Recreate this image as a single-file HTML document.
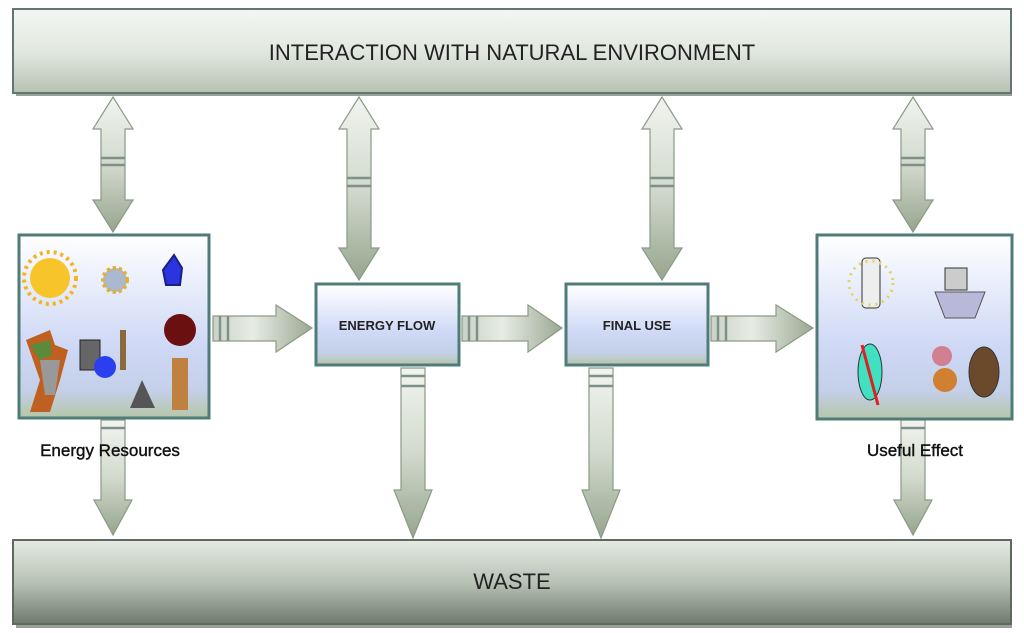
<!DOCTYPE html>
<html><head><meta charset="utf-8"><style>
html,body{margin:0;padding:0;background:#fff;width:1024px;height:633px;overflow:hidden}
svg text{font-family:"Liberation Sans",sans-serif}
</style></head><body>
<svg width="1024" height="633" viewBox="0 0 1024 633" xmlns="http://www.w3.org/2000/svg">
<defs>
<linearGradient id="top" x1="0" y1="0" x2="0" y2="1"><stop offset="0" stop-color="#f4f6f3"/><stop offset="0.5" stop-color="#e2e8e0"/><stop offset="1" stop-color="#b7c2b3"/></linearGradient>
<linearGradient id="bot" x1="0" y1="0" x2="0" y2="1"><stop offset="0" stop-color="#e6ebe4"/><stop offset="0.5" stop-color="#b8c2b5"/><stop offset="1" stop-color="#6f7a6d"/></linearGradient>
<linearGradient id="box" x1="0" y1="0" x2="0" y2="1"><stop offset="0" stop-color="#ffffff"/><stop offset="0.6" stop-color="#cfd9f6"/><stop offset="0.85" stop-color="#c4cfe8"/><stop offset="1" stop-color="#b5c6a8"/></linearGradient>
<linearGradient id="av" x1="0" y1="0" x2="0" y2="1"><stop offset="0" stop-color="#f2f4f0"/><stop offset="0.5" stop-color="#d2dacd"/><stop offset="1" stop-color="#96a58e"/></linearGradient>
<linearGradient id="ah" x1="0" y1="0" x2="1" y2="0"><stop offset="0" stop-color="#c9d2c4"/><stop offset="0.4" stop-color="#e8ece5"/><stop offset="1" stop-color="#9aa892"/></linearGradient>
</defs>

<rect x="16" y="12" width="996" height="84" fill="#9aa098"/>
<rect x="13" y="9" width="998" height="84" fill="url(#top)" stroke="#5f7873" stroke-width="2"/>
<text x="512" y="60" font-size="22" text-anchor="middle" fill="#222">INTERACTION WITH NATURAL ENVIRONMENT</text>

<rect x="16" y="543" width="996" height="85" fill="#9aa098"/>
<rect x="13" y="540" width="998" height="84" fill="url(#bot)" stroke="#5e6a60" stroke-width="2"/>
<text x="512" y="589" font-size="22" text-anchor="middle" fill="#222">WASTE</text>

<g stroke="#8a9a86" stroke-width="1.2" fill="url(#av)">
<polygon points="113,97 133,129 125,129 125,200 133,200 113,232 93,200 101,200 101,129 93,129"/>
<polygon points="359,97 379,129 371,129 371,248 379,248 359,280 339,248 347,248 347,129 339,129"/>
<polygon points="662,97 682,129 674,129 674,248 682,248 662,280 642,248 650,248 650,129 642,129"/>
<polygon points="913,97 933,129 925,129 925,200 933,200 913,232 893,200 901,200 901,129 893,129"/>
<polygon points="101,420 125,420 125,500 132,500 113,535 94,500 101,500"/>
<polygon points="401,368 425,368 425,490 432,490 413,538 394,490 401,490"/>
<polygon points="589,368 613,368 613,490 620,490 601,538 582,490 589,490"/>
<polygon points="901,420 925,420 925,500 932,500 913,535 894,500 901,500"/>
</g>
<g stroke="#8a9a86" stroke-width="1.2" fill="url(#ah)">
<polygon points="213,316 276,316 276,305 312,328 276,352 276,341 213,341"/>
<polygon points="462,316 528,316 528,305 562,328 528,352 528,341 462,341"/>
<polygon points="711,316 776,316 776,305 813,328 776,352 776,341 711,341"/>
</g>
<g stroke="#7f9088" stroke-width="2.5">
<line x1="101" y1="158" x2="125" y2="158"/><line x1="101" y1="165" x2="125" y2="165"/>
<line x1="347" y1="178" x2="371" y2="178"/><line x1="347" y1="186" x2="371" y2="186"/>
<line x1="650" y1="178" x2="674" y2="178"/><line x1="650" y1="186" x2="674" y2="186"/>
<line x1="901" y1="158" x2="925" y2="158"/><line x1="901" y1="165" x2="925" y2="165"/>
<line x1="401" y1="376" x2="425" y2="376"/><line x1="401" y1="386" x2="425" y2="386"/>
<line x1="589" y1="376" x2="613" y2="376"/><line x1="589" y1="386" x2="613" y2="386"/>
<line x1="101" y1="428" x2="125" y2="428"/><line x1="901" y1="428" x2="925" y2="428"/>
<line x1="220" y1="316" x2="220" y2="341"/><line x1="228" y1="316" x2="228" y2="341"/>
<line x1="469" y1="316" x2="469" y2="341"/><line x1="477" y1="316" x2="477" y2="341"/>
<line x1="718" y1="316" x2="718" y2="341"/><line x1="726" y1="316" x2="726" y2="341"/>
</g>

<g stroke="#4f7c78" stroke-width="3">
<rect x="19" y="235" width="190" height="183" fill="url(#box)"/>
<rect x="316" y="284" width="143" height="81" fill="url(#box)"/>
<rect x="566" y="284" width="142" height="81" fill="url(#box)"/>
<rect x="817" y="235" width="195" height="184" fill="url(#box)"/>
</g>
<text x="387" y="330" font-size="13" font-weight="bold" text-anchor="middle" fill="#222">ENERGY FLOW</text>
<text x="637" y="330" font-size="13" font-weight="bold" text-anchor="middle" fill="#222">FINAL USE</text>

<circle cx="50" cy="278" r="20" fill="#f7c52a"/>
<circle cx="50" cy="278" r="26" fill="none" stroke="#f3b420" stroke-width="4" stroke-dasharray="3 4"/>
<circle cx="115" cy="280" r="12" fill="#aab8d0" stroke="#e0b030" stroke-width="4" stroke-dasharray="3 3"/>
<path d="M174 255 L182 268 L180 285 L166 285 L163 270 Z" fill="#2a35e0" stroke="#1a2080" stroke-width="2"/>
<path d="M26 340 L50 330 L55 345 L68 350 L60 380 L50 412 L30 412 L40 380 Z" fill="#c06020"/>
<path d="M30 345 L50 340 L52 355 L40 360 Z" fill="#5a8a3a"/>
<path d="M40 360 L60 360 L55 395 L45 395 Z" fill="#999"/>
<rect x="80" y="340" width="20" height="30" fill="#666" stroke="#222"/>
<circle cx="105" cy="367" r="11" fill="#2a40f0"/>
<rect x="120" y="330" width="6" height="40" fill="#8a6a3a"/>
<path d="M130 408 L142 380 L155 408 Z" fill="#555"/>
<circle cx="180" cy="330" r="16" fill="#6a1010"/>
<rect x="172" y="358" width="16" height="52" fill="#c08040"/>
<text x="110" y="456" font-size="17" text-anchor="middle" fill="#111" stroke="#111" stroke-width="0.4">Energy Resources</text>

<rect x="862" y="258" width="18" height="50" rx="4" fill="#eee" stroke="#333"/>
<circle cx="871" cy="283" r="22" fill="none" stroke="#e8d060" stroke-width="3" stroke-dasharray="2 5"/>
<rect x="945" y="268" width="22" height="22" fill="#ccc" stroke="#333"/>
<path d="M935 292 L985 292 L975 318 L945 318 Z" fill="#b8b8d8" stroke="#555"/>
<ellipse cx="870" cy="372" rx="12" ry="28" fill="#40e0c0" stroke="#333"/>
<line x1="862" y1="345" x2="878" y2="405" stroke="#e02020" stroke-width="3"/>
<circle cx="942" cy="356" r="10" fill="#d08090"/>
<circle cx="945" cy="380" r="12" fill="#d08030"/>
<ellipse cx="984" cy="372" rx="15" ry="25" fill="#6a4a2a" stroke="#333"/>
<text x="915" y="456" font-size="17" text-anchor="middle" fill="#111" stroke="#111" stroke-width="0.4">Useful Effect</text>
</svg>
</body></html>
